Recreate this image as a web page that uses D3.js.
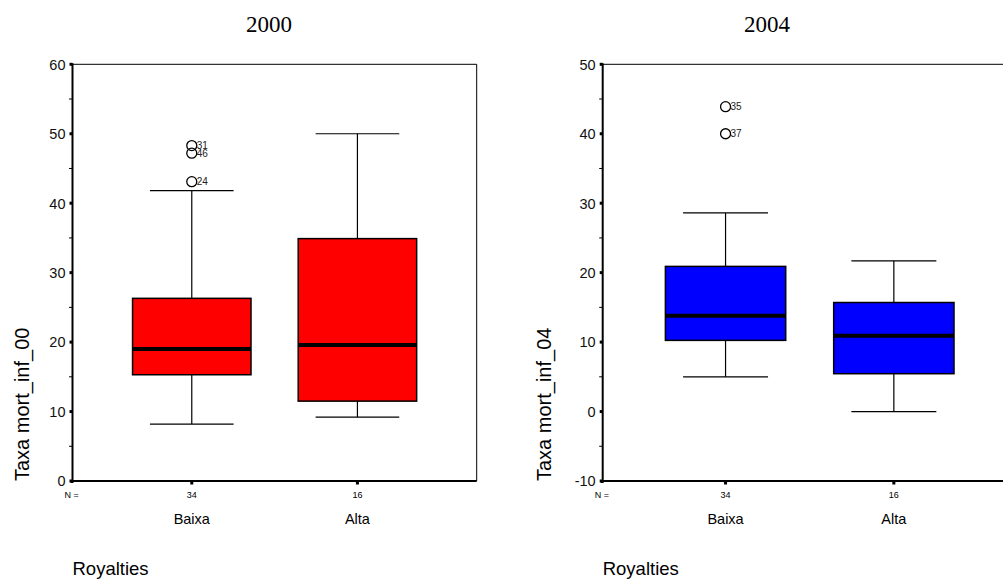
<!DOCTYPE html>
<html>
<head>
<meta charset="utf-8">
<script src="https://cdn.jsdelivr.net/npm/d3@7"></script>
<style>
  body { margin: 0; background: #fff; }
  svg { display: block; }
  text { font-family: Arial, "Liberation Sans", sans-serif; }
</style>
</head>
<body>
<svg id="chart" width="1003" height="582"></svg>
<script>
// data
var categories = ["Baixa", "Alta"];
var counts = [34, 16];
var years = ["2000", "2004"];
var yTitles = ["Taxa mort_inf_00", "Taxa mort_inf_04"];

// five numbers per box: low whisker, q1, median, q3, high whisker
var lowWhisker00 = [8.2, 9.2];
var q1_00 = [15.3, 11.5];
var median00 = [19.0, 19.6];
var q3_00 = [26.3, 34.9];
var highWhisker00 = [41.8, 50.0];

var lowWhisker04 = [5.0, 0.0];
var q1_04 = [10.25, 5.45];
var median04 = [13.8, 10.9];
var q3_04 = [20.9, 15.7];
var highWhisker04 = [28.6, 21.7];

var outlierGroup00 = ["Baixa", "Baixa", "Baixa"];
var outlierValue00 = [48.3, 47.2, 43.1];
var outlierCase00 = ["31", "46", "24"];

var outlierGroup04 = ["Baixa", "Baixa"];
var outlierValue04 = [43.9, 40.0];
var outlierCase04 = ["35", "37"];

var yDomains = [[0, 60], [-10, 50]];
var yTicks = [[0, 10, 20, 30, 40, 50, 60], [-10, 0, 10, 20, 30, 40, 50]];
var colors = ["#ff0000", "#0000ff"];

var panels = [
  { left: 72.5, width: 404.2, pad: 0.72, titleX: 269, yTitleX: 29,
    low: lowWhisker00, q1: q1_00, med: median00, q3: q3_00, high: highWhisker00,
    og: outlierGroup00, ov: outlierValue00, oc: outlierCase00 },
  { left: 602.7, width: 414, pad: 0.73, titleX: 767, yTitleX: 551,
    low: lowWhisker04, q1: q1_04, med: median04, q3: q3_04, high: highWhisker04,
    og: outlierGroup04, ov: outlierValue04, oc: outlierCase04 }
];

var plotTop = 64.3, plotBottom = 481;
var svg = d3.select("#chart");

panels.forEach(function(p, i) {
  var g = svg.append("g");
  var x = d3.scalePoint().domain(categories).range([p.left, p.left + p.width]).padding(p.pad);
  var y = d3.scaleLinear().domain(yDomains[i]).range([plotBottom, plotTop]);
  var step = x.step();
  var boxW = step * 0.715, capW = step * 0.505;

  // title
  g.append("text").attr("x", p.titleX).attr("y", 31.7)
    .attr("text-anchor", "middle")
    .style("font-family", "'Liberation Serif', 'Times New Roman', serif")
    .style("font-size", "23px").text(years[i]);

  // frame (thin top/right)
  g.append("line").attr("x1", p.left).attr("x2", p.left + p.width).attr("y1", plotTop).attr("y2", plotTop)
    .attr("stroke", "#000").attr("stroke-width", 1);
  g.append("line").attr("x1", p.left + p.width).attr("x2", p.left + p.width).attr("y1", plotTop).attr("y2", plotBottom)
    .attr("stroke", "#000").attr("stroke-width", 1);

  // y axis
  var minor = d3.range(yDomains[i][0], yDomains[i][1] + 0.1, 5).filter(function(v) { return v % 10 !== 0; });
  g.selectAll(".minor").data(minor).enter().append("line")
    .attr("x1", p.left - 3.5).attr("x2", p.left).attr("y1", function(d) { return y(d); }).attr("y2", function(d) { return y(d); })
    .attr("stroke", "#000").attr("stroke-width", 1);
  g.selectAll(".major").data(yTicks[i]).enter().append("rect")
    .attr("x", p.left - 3).attr("y", function(d) { return y(d) - 1.5; }).attr("width", 3).attr("height", 3)
    .attr("fill", "#000");
  g.selectAll(".ylab").data(yTicks[i]).enter().append("text")
    .attr("x", p.left - 7).attr("y", function(d) { return y(d) + 5.3; })
    .attr("text-anchor", "end").style("font-size", "14.5px").attr("fill", "#111")
    .text(function(d) { return d; });
  g.append("line").attr("x1", p.left).attr("x2", p.left).attr("y1", plotTop - 1).attr("y2", plotBottom)
    .attr("stroke", "#000").attr("stroke-width", 2);

  // x axis
  g.append("line").attr("x1", p.left - 1).attr("x2", p.left + p.width).attr("y1", plotBottom).attr("y2", plotBottom)
    .attr("stroke", "#000").attr("stroke-width", 2);
  g.append("rect").attr("x", p.left - 2).attr("y", plotBottom - 1).attr("width", 3).attr("height", 3).attr("fill", "#000");
  g.selectAll(".xtick").data(categories).enter().append("rect")
    .attr("x", function(d) { return x(d) - 1.5; }).attr("y", plotBottom).attr("width", 3).attr("height", 3.5)
    .attr("fill", "#000");
  g.append("text").attr("x", p.left - 8).attr("y", 498.3).style("font-size", "9px").text("N =");
  g.selectAll(".nlab").data(categories).enter().append("text")
    .attr("x", function(d) { return x(d); }).attr("y", 498.3).attr("text-anchor", "middle")
    .style("font-size", "9px").text(function(d, j) { return counts[j]; });
  g.selectAll(".cat").data(categories).enter().append("text")
    .attr("x", function(d) { return x(d); }).attr("y", 524.3).attr("text-anchor", "middle")
    .style("font-size", "14.5px").text(function(d) { return d; });
  g.append("text").attr("x", p.left).attr("y", 574.5).style("font-size", "18.5px").text("Royalties");

  // y title
  g.append("text").attr("transform", "translate(" + p.yTitleX + "," + plotBottom + ") rotate(-90)")
    .attr("text-anchor", "start").style("font-size", "20px").text(yTitles[i]);

  // boxes
  categories.forEach(function(c, j) {
    var cx = x(c);
    g.append("line").attr("x1", cx).attr("x2", cx).attr("y1", y(p.high[j])).attr("y2", y(p.low[j]))
      .attr("stroke", "#000").attr("stroke-width", 1.2);
    [p.high[j], p.low[j]].forEach(function(v) {
      g.append("line").attr("x1", cx - capW / 2).attr("x2", cx + capW / 2).attr("y1", y(v)).attr("y2", y(v))
        .attr("stroke", "#000").attr("stroke-width", 1.2);
    });
    g.append("rect").attr("x", cx - boxW / 2).attr("y", y(p.q3[j])).attr("width", boxW)
      .attr("height", y(p.q1[j]) - y(p.q3[j]))
      .attr("fill", colors[i]).attr("stroke", "#000").attr("stroke-width", 1.5);
    g.append("line").attr("x1", cx - boxW / 2).attr("x2", cx + boxW / 2).attr("y1", y(p.med[j])).attr("y2", y(p.med[j]))
      .attr("stroke", "#000").attr("stroke-width", 4);
  });

  // outliers
  p.ov.forEach(function(v, k) {
    var cx = x(p.og[k]);
    g.append("circle").attr("cx", cx).attr("cy", y(v)).attr("r", 5)
      .attr("fill", "none").attr("stroke", "#000").attr("stroke-width", 1.3);
    g.append("text").attr("x", cx + 5).attr("y", y(v) + 3.5)
      .style("font-size", "10px").attr("fill", "#222").text(p.oc[k]);
  });
});
</script>
</body>
</html>
